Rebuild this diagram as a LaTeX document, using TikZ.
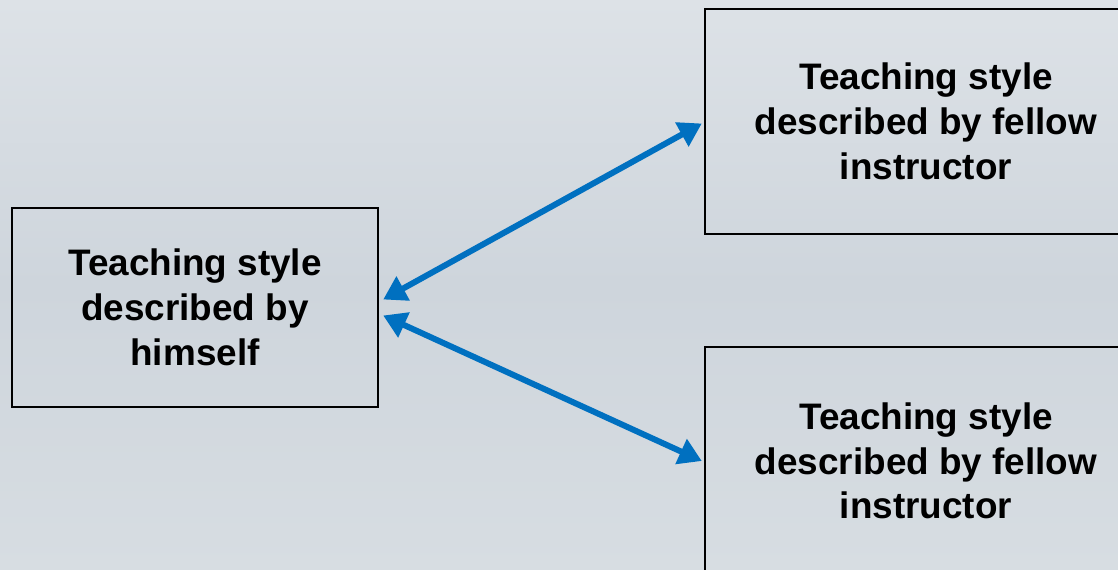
\documentclass[tikz,border=0pt]{standalone}
\usepackage{fontspec}
\setmainfont{Liberation Sans}
\usetikzlibrary{arrows.meta, positioning}

\definecolor{arrowblue}{RGB}{0,112,192}
\definecolor{skytop}{RGB}{221,226,231}
\definecolor{skymid}{RGB}{206,213,220}
\definecolor{skybot}{RGB}{215,221,226}

\begin{document}
\begin{tikzpicture}[x=0.02cm, y=-0.02cm, line width=1.4pt]

  % Define styles for the boxes and links
  \tikzstyle{stylebox} = [draw=black, rectangle, align=center, font=\fontsize{21}{25.5}\selectfont\bfseries]
  \tikzstyle{link} = [{Triangle[length=13pt, width=15pt]}-{Triangle[length=13pt, width=15pt]}, line width=3.4pt, arrowblue]

  \useasboundingbox (0,0) rectangle (1118,570);
  \clip (0,0) rectangle (1118,570);
  \shade[top color=skytop, bottom color=skybot, middle color=skymid] (0,0) rectangle (1118,570);

  \node (himself) [stylebox, minimum width=7.32cm, minimum height=3.98cm] at (195,307.5) {Teaching style\\described by\\himself};
  \node (fellowA) [stylebox, minimum width=8.84cm, minimum height=4.5cm] at (926,121.5) {Teaching style\\described by fellow\\instructor};
  \node (fellowB) [stylebox, minimum width=8.84cm, minimum height=4.56cm] at (926,461) {Teaching style\\described by fellow\\instructor};

  \draw[link] ([shift={(4,-8)}]himself.east) -- ([shift={(-2,2)}]fellowA.west);
  \draw[link] ([shift={(4,8)}]himself.east) -- ([shift={(-2,0)}]fellowB.west);

\end{tikzpicture}
\end{document}
